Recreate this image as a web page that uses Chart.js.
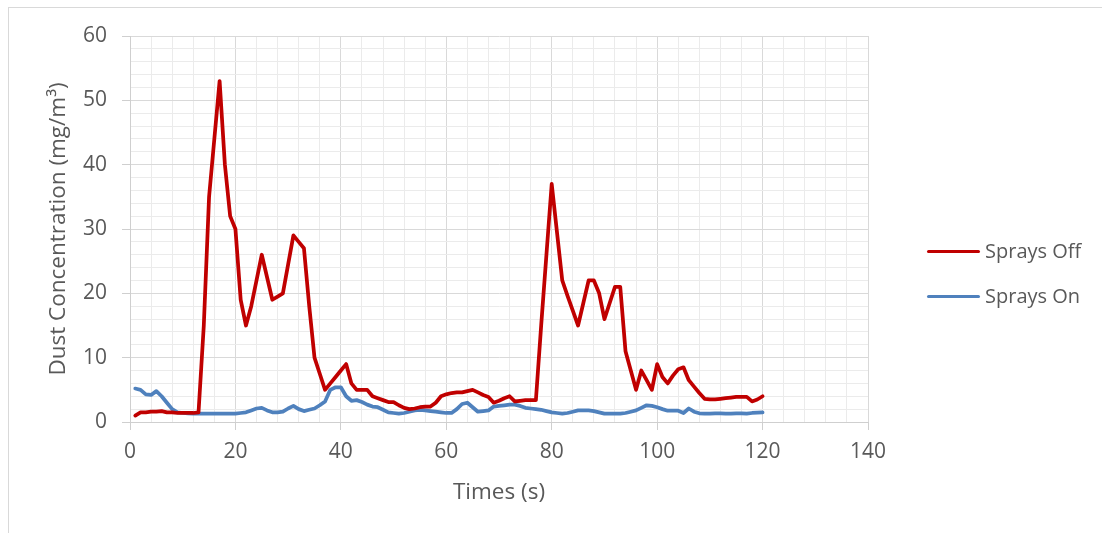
<!DOCTYPE html>
<html>
<head>
<meta charset="utf-8">
<script src="https://cdn.jsdelivr.net/npm/chart.js@4.4.0/dist/chart.umd.min.js"></script>
<style>
  html, body { margin: 0; padding: 0; background: #ffffff; }
  #wrap { position: relative; width: 1102px; height: 533px; overflow: hidden; background: #fff; }
  #frame { position: absolute; left: 8px; top: 7px; width: 1200px; height: 600px;
           border-top: 1px solid #d9d9d9; border-left: 1px solid #d9d9d9; pointer-events: none; }
  canvas { position: absolute; left: 0; top: 0; }
  .leg { position: absolute; font-family: "Open Sans", sans-serif; font-size: 20px; color: #595959;
         height: 28px; line-height: 28px; white-space: nowrap; }
  .legline { position: absolute; height: 3.5px; border-radius: 2px; }
</style>
</head>
<body>
<div id="wrap">
  <canvas id="c" width="1102" height="533"></canvas>
  <div id="frame"></div>
  <div class="legline" style="left:927px; top:249.5px; width:53px; background:#C00000;"></div>
  <div class="leg" id="leg0" style="left:985px; top:237px;">Sprays Off</div>
  <div class="legline" style="left:927px; top:294.5px; width:53px; background:#4F81BD;"></div>
  <div class="leg" id="leg1" style="left:985px; top:282px;">Sprays On</div>
</div>
<script>
const times = [1,2,3,4,5,6,7,8,9,10,11,12,13,14,15,16,17,18,19,20,
  21,22,23,24,25,26,27,28,29,30,31,32,33,34,35,36,37,38,39,40,
  41,42,43,44,45,46,47,48,49,50,51,52,53,54,55,56,57,58,59,60,
  61,62,63,64,65,66,67,68,69,70,71,72,73,74,75,76,77,78,79,80,
  81,82,83,84,85,86,87,88,89,90,91,92,93,94,95,96,97,98,99,100,
  101,102,103,104,105,106,107,108,109,110,111,112,113,114,115,116,117,118,119,120];

const spraysOff = [1.0,1.5,1.5,1.6,1.6,1.7,1.5,1.5,1.4,1.4,1.4,1.4,1.5,15,35,44,53,40,32,30,
  19,15,18,22,26,22.5,19,19.5,20,24.5,29,28,27,18,10,7.5,5,6,7,8,
  9,6,5,5,5,4,3.7,3.4,3.1,3.1,2.6,2.2,2.0,2.1,2.3,2.4,2.4,3.0,4.0,4.3,
  4.5,4.6,4.6,4.8,5.0,4.6,4.2,3.9,3.0,3.3,3.7,4.0,3.2,3.3,3.4,3.4,3.4,15,26,37,
  29.5,22,19.6,17.3,15,18.5,22,22,20,16,18.5,21,21,11,8,5,8,6.5,5,9,
  7,6,7.2,8.2,8.5,6.5,5.5,4.5,3.6,3.5,3.5,3.6,3.7,3.8,3.9,3.9,3.9,3.2,3.5,4.0];

const spraysOn = [5.2,5.0,4.3,4.2,4.8,4.0,3.0,2.0,1.5,1.4,1.35,1.3,1.3,1.3,1.3,1.3,1.3,1.3,1.3,1.3,
  1.4,1.5,1.8,2.1,2.2,1.8,1.5,1.5,1.6,2.1,2.5,2.0,1.7,1.9,2.1,2.6,3.2,5.0,5.4,5.4,
  4.0,3.3,3.4,3.1,2.7,2.4,2.3,1.9,1.5,1.4,1.3,1.4,1.6,1.8,1.9,1.8,1.7,1.6,1.5,1.4,
  1.4,2.0,2.8,3.0,2.3,1.6,1.7,1.8,2.4,2.5,2.6,2.7,2.7,2.5,2.2,2.1,2.0,1.9,1.7,1.5,
  1.4,1.3,1.4,1.6,1.8,1.8,1.8,1.7,1.5,1.3,1.3,1.3,1.3,1.4,1.6,1.8,2.2,2.6,2.5,2.3,
  2.0,1.75,1.75,1.75,1.4,2.1,1.6,1.35,1.3,1.3,1.35,1.35,1.3,1.3,1.35,1.35,1.3,1.4,1.45,1.5];

const seriesNames = ["Sprays Off", "Sprays On"];
const xTitle = "Times (s)";
const yTitle = "Dust Concentration (mg/m\u00B3)";

const MAJOR = "#d9d9d9", MINOR = "#ebebeb", TXT = "#595959";
const FONT = "'Open Sans', sans-serif";

function pairs(vals) { return times.map((t, i) => ({ x: t, y: vals[i] })); }

new Chart(document.getElementById("c"), {
  type: "line",
  data: {
    datasets: [
      { label: seriesNames[0], data: pairs(spraysOff), borderColor: "#C00000", borderWidth: 3.75,
        pointRadius: 0, tension: 0, borderJoinStyle: "round", borderCapStyle: "round", fill: false },
      { label: seriesNames[1], data: pairs(spraysOn), borderColor: "#4F81BD", borderWidth: 3.75,
        pointRadius: 0, tension: 0, borderJoinStyle: "round", borderCapStyle: "round", fill: false }
    ]
  },
  options: {
    responsive: false,
    animation: false,
    devicePixelRatio: 1,
    layout: { padding: { left: 0, top: 36, right: 234, bottom: 0 } },
    plugins: { legend: { display: false }, tooltip: { enabled: false } },
    scales: {
      x: {
        type: "linear", min: 0, max: 140,
        afterFit: (s) => { s.height = 111; },
        ticks: {
          stepSize: 4, autoSkip: false, maxRotation: 0, padding: 9, color: TXT,
          font: { family: FONT, size: 21 },
          callback: (v) => (v % 20 === 0 ? String(v) : "")
        },
        grid: {
          color: (ctx) => (ctx.tick && ctx.tick.value % 20 === 0 ? MAJOR : MINOR),
          tickColor: (ctx) => (ctx.tick && ctx.tick.value % 20 === 0 ? "#cfcfcf" : "rgba(0,0,0,0)"),
          tickLength: 8, lineWidth: 1
        },
        border: { color: "#cfcfcf", width: 1 },
        title: { display: true, text: xTitle, color: TXT, font: { family: FONT, size: 22.5 },
                 padding: { top: 0, bottom: 27 } }
      },
      y: {
        type: "linear", min: 0, max: 60,
        afterFit: (s) => { s.width = 130; },
        ticks: {
          stepSize: 2, autoSkip: false, padding: 15, color: TXT,
          font: { family: FONT, size: 21 },
          callback: (v) => (v % 10 === 0 ? String(v) : "")
        },
        grid: {
          color: (ctx) => (ctx.tick && ctx.tick.value % 10 === 0 ? MAJOR : MINOR),
          tickColor: (ctx) => (ctx.tick && ctx.tick.value % 10 === 0 ? "#cfcfcf" : "rgba(0,0,0,0)"),
          tickLength: 8, lineWidth: 1
        },
        border: { color: "#cfcfcf", width: 1 },
        title: { display: true, text: yTitle, color: TXT, font: { family: FONT, size: 22.5 },
                 padding: { top: 45, bottom: 0 } }
      }
    }
  }
});
</script>
</body>
</html>
